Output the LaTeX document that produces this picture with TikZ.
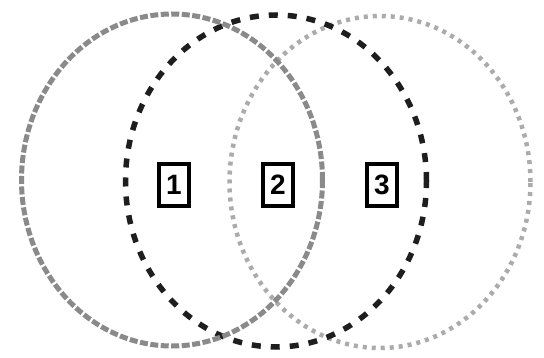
\documentclass[tikz,border=0pt]{standalone}
\usepackage{fontspec}
\setsansfont{Liberation Sans}
\usetikzlibrary{shapes.geometric}
\definecolor{cRingA}{HTML}{8A8A8A}
\definecolor{cRingB}{HTML}{1E1E1E}
\definecolor{cRingC}{HTML}{ABABAB}
\tikzset{
  ring/.style  = {ellipse, minimum width=301pt, minimum height=332pt, inner sep=0pt},
  ringa/.style = {ring, draw=cRingA, line width=5pt, dash pattern=on 8pt off 2.5pt},
  ringb/.style = {ring, draw=cRingB, line width=5.5pt, dash pattern=on 9pt off 10pt},
  ringc/.style = {ring, draw=cRingC, line width=4.5pt, dash pattern=on 4pt off 5pt},
  tag/.style   = {rectangle, draw=black, line width=3.6pt, fill=white,
                  minimum width=30pt, minimum height=42pt, inner sep=0pt,
                  font=\sffamily\bfseries\fontsize{28}{28}\selectfont},
}
\begin{document}
\begin{tikzpicture}[x=1pt, y=-1pt]
  \useasboundingbox[fill=white] (0,0) rectangle (544,358);

  \node[ringc] (r3) at (380,182) {};
  \node[ringb] (r2) at (276,181) {};
  \node[ringa] (r1) at (172,180) {};

  \node[tag] (t1) at (174,185) {1};
  \node[tag] (t2) at (278,185) {2};
  \node[tag] (t3) at (382,185) {3};
\end{tikzpicture}
\end{document}
